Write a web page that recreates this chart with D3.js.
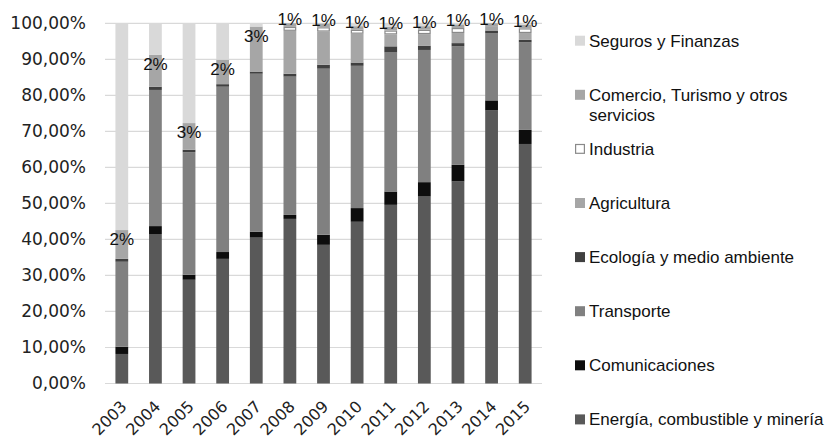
<!DOCTYPE html>
<html>
<head>
<meta charset="utf-8">
<script src="https://cdn.jsdelivr.net/npm/d3@7/dist/d3.min.js"></script>
<style>
  html, body { margin: 0; padding: 0; background: #ffffff; }
  svg { display: block; }
</style>
</head>
<body>
<div id="chart"></div>
<script>
// Distribución porcentual por sector, 2003-2015
const years = ["2003","2004","2005","2006","2007","2008","2009","2010","2011","2012","2013","2014","2015"];

const energia        = [8.2, 41.5, 28.8, 34.6, 40.5, 45.7, 38.5, 44.9, 49.6, 51.9, 56.1, 75.8, 66.5];
const comunicaciones = [2.0, 2.2, 1.4, 1.9, 1.6, 1.1, 2.8, 3.8, 3.7, 4.0, 4.6, 2.8, 3.9];
const transporte     = [23.6, 37.8, 34.0, 45.9, 43.9, 38.4, 46.1, 39.5, 38.6, 36.7, 32.9, 18.7, 24.3];
const ecologia       = [0.8, 0.9, 0.7, 0.7, 0.6, 0.8, 1.1, 0.9, 1.7, 1.2, 0.9, 0.7, 0.7];
const agricultura    = [6.0, 6.9, 4.4, 4.8, 9.5, 11.9, 9.2, 8.0, 3.3, 3.2, 2.8, 1.0, 1.9];
const industria      = [0, 0, 0, 0, 0, 1.1, 1.2, 1.1, 1.1, 1.2, 1.4, 0, 1.3];
const comercio       = [2, 2, 3, 2, 3, 1, 1, 1, 1, 1, 1, 1, 1];
const seguros        = [57.4, 8.7, 27.7, 10.1, 0.9, 0, 0.1, 0.8, 1.0, 0.8, 0.3, 0, 0.4];

const yTicks = [0, 10, 20, 30, 40, 50, 60, 70, 80, 90, 100];

// Series in stacking order (bottom to top)
const series = [
  { key: "energia",        name: "Energía, combustible y minería", values: energia,        fill: "#595959" },
  { key: "comunicaciones", name: "Comunicaciones",                 values: comunicaciones, fill: "#0d0d0d" },
  { key: "transporte",     name: "Transporte",                     values: transporte,     fill: "#808080" },
  { key: "ecologia",       name: "Ecología y medio ambiente",      values: ecologia,       fill: "#404040" },
  { key: "agricultura",    name: "Agricultura",                    values: agricultura,    fill: "#a6a6a6" },
  { key: "industria",      name: "Industria",                      values: industria,      fill: "#ffffff", stroke: "#8a8a8a" },
  { key: "comercio",       name: "Comercio, Turismo y otros servicios", values: comercio,  fill: "#a6a6a6",
    lines: ["Comercio, Turismo y otros", "servicios"] },
  { key: "seguros",        name: "Seguros y Finanzas",             values: seguros,        fill: "#d9d9d9" }
];

const W = 828, H = 440;
const plot = { left: 105, right: 542, top: 23.3, bottom: 383.5 };
const axisFont = "'DejaVu Sans', Verdana, sans-serif";
const textFont = "'Liberation Sans', Arial, sans-serif";

const svg = d3.select("#chart").append("svg")
  .attr("width", W).attr("height", H);

svg.append("rect").attr("width", W).attr("height", H).attr("fill", "#ffffff");

const x = d3.scaleBand()
  .domain(years)
  .range([plot.left, plot.right])
  .paddingInner(0.62)
  .paddingOuter(0.31);

const y = d3.scaleLinear()
  .domain([0, 100])
  .range([plot.bottom, plot.top]);

// Gridlines
svg.append("g")
  .selectAll("line")
  .data(yTicks)
  .join("line")
  .attr("x1", plot.left).attr("x2", plot.right)
  .attr("y1", d => y(d)).attr("y2", d => y(d))
  .attr("stroke", "#d9d9d9")
  .attr("stroke-width", 1.2);

// Y axis labels
const yAxis = d3.axisLeft(y)
  .tickValues(yTicks)
  .tickSize(0)
  .tickPadding(0)
  .tickFormat(d => d3.format(".2f")(d).replace(".", ",") + "%");

svg.append("g")
  .attr("transform", `translate(${plot.left - 19},0)`)
  .call(yAxis)
  .call(g => g.select(".domain").remove())
  .call(g => g.selectAll("text")
    .attr("font-family", axisFont)
    .attr("font-size", 17)
    .attr("fill", "#222"));

// Stack
const table = years.map((yr, i) => {
  const row = { year: yr };
  series.forEach(s => { row[s.key] = s.values[i]; });
  return row;
});
const stacked = d3.stack().keys(series.map(s => s.key))(table);

const layers = svg.append("g")
  .selectAll("g")
  .data(stacked)
  .join("g")
  .attr("fill", (d, i) => series[i].fill);

layers.each(function (layer, li) {
  const s = series[li];
  const g = d3.select(this);
  const segs = layer.filter(d => d[1] - d[0] > 0);
  if (s.stroke) {
    const bw = x.bandwidth();
    g.selectAll("rect")
      .data(segs)
      .join("rect")
      .attr("x", d => x(d.data.year) + 0.6)
      .attr("width", bw - 1.2)
      .attr("y", d => y(d[1]) + 0.6)
      .attr("height", d => Math.max(0, y(d[0]) - y(d[1]) - 1.2))
      .attr("stroke", s.stroke)
      .attr("stroke-width", 1.2);
  } else {
    g.selectAll("rect")
      .data(segs)
      .join("rect")
      .attr("x", d => x(d.data.year))
      .attr("width", x.bandwidth())
      .attr("y", d => y(d[1]))
      .attr("height", d => y(d[0]) - y(d[1]));
  }
});

// Value labels of "Comercio, Turismo y otros servicios"
const comIdx = series.findIndex(s => s.key === "comercio");
svg.append("g")
  .selectAll("text")
  .data(stacked[comIdx])
  .join("text")
  .attr("x", d => x(d.data.year) + x.bandwidth() / 2)
  .attr("y", d => {
    const v = d[1] - d[0];
    return v >= 2 ? y(d[1]) + 15 : y(d[1]) + 2;
  })
  .attr("text-anchor", "middle")
  .attr("font-family", textFont)
  .attr("font-size", 17)
  .attr("fill", "#111")
  .text(d => d3.format(".0f")(d[1] - d[0]) + "%");

// X axis labels (rotated)
const xAxis = d3.axisBottom(x).tickSize(0).tickPadding(0);
svg.append("g")
  .attr("transform", `translate(0,${plot.bottom})`)
  .call(xAxis)
  .call(g => g.select(".domain").remove())
  .call(g => g.selectAll("text")
    .attr("font-family", axisFont)
    .attr("font-size", 16)
    .attr("fill", "#222")
    .attr("text-anchor", "end")
    .attr("dy", 0)
    .attr("y", 0)
    .attr("transform", "translate(6,24) rotate(-45)"));

// Legend (top of stack first)
const legendSeries = series.slice().reverse();
const legend = svg.append("g")
  .attr("font-family", textFont)
  .attr("font-size", 17)
  .attr("fill", "#111");

const rowY = i => 40.7 + 54.1 * i;

legendSeries.forEach((s, i) => {
  const cy = rowY(i);
  legend.append("rect")
    .attr("x", s.stroke ? 575.6 : 575)
    .attr("y", s.stroke ? cy - 4.4 : cy - 5)
    .attr("width", s.stroke ? 8.8 : 10)
    .attr("height", s.stroke ? 8.8 : 10)
    .attr("fill", s.fill)
    .attr("stroke", s.stroke || "none")
    .attr("stroke-width", s.stroke ? 1.2 : 0);
  const lines = s.lines || [s.name];
  const t = legend.append("text")
    .attr("x", 589)
    .attr("y", cy + 6);
  lines.forEach((ln, k) => {
    t.append("tspan")
      .attr("x", 589)
      .attr("dy", k === 0 ? 0 : 20)
      .text(ln);
  });
});
</script>
</body>
</html>
